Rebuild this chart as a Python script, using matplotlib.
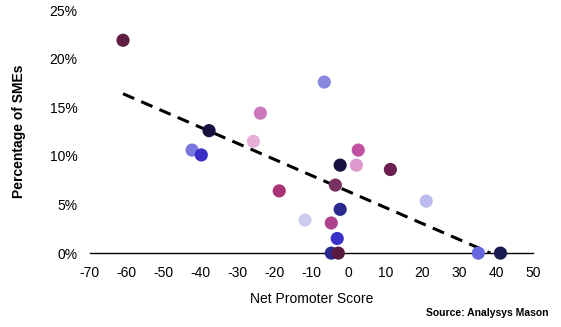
import matplotlib.pyplot as plt
from matplotlib.ticker import PercentFormatter

# Net Promoter Score vs share of SMEs, one point per operator
nps = [-61, -6.5, -23.8, -37.7, -25.7, -42.3, -39.8, 2.7, -2.2, 2.2, 11.4,
       -3.5, -18.7, 21.1, -2.2, -11.7, -4.6, -3.0, -4.6, -2.7, 35.2, 41.2]
share = [21.9, 17.6, 14.4, 12.6, 11.5, 10.6, 10.1, 10.6, 9.05, 9.05, 8.6,
         7.0, 6.4, 5.35, 4.5, 3.4, 3.1, 1.5, 0, 0, 0, 0]
colors = ["#5e1f41", "#8888dd", "#cc77bb", "#1a1040", "#e8b0d8", "#7777dd",
          "#3a30c8", "#c050a0", "#1a1040", "#dd99cc", "#6a2050", "#7a3060",
          "#aa3377", "#bbbbee", "#2a2a90", "#ccccee", "#b04090", "#3a30cc",
          "#2a2a90", "#5a1a40", "#6666dd", "#1a1a50"]

# trend line end points
trend_x = [-61, 38.5]
trend_y = [16.4, 0]

xticks = list(range(-70, 51, 10))
yticks = [0, 5, 10, 15, 20, 25]

plt.rcParams["font.family"] = ["Liberation Sans", "DejaVu Sans"]
plt.rcParams["axes.unicode_minus"] = False

fig = plt.figure(figsize=(5.61, 3.27), dpi=100)
ax = fig.add_axes([0.160, 0.226, 0.790, 0.743])

ax.plot(trend_x, trend_y, color="black", lw=2.2, ls=(0, (4, 2.5)), zorder=2)
ax.scatter(nps, share, s=90, c=colors, edgecolors="none", zorder=3,
           clip_on=False)

ax.set_xlim(-70, 50)
ax.set_ylim(0, 25)
ax.set_xticks(xticks)
ax.set_yticks(yticks)
ax.yaxis.set_major_formatter(PercentFormatter(decimals=0))
ax.tick_params(length=0, labelsize=10, colors="black")
ax.tick_params(axis="y", pad=9)
ax.tick_params(axis="x", pad=9)

for side in ["top", "right", "left"]:
    ax.spines[side].set_visible(False)
ax.spines["bottom"].set_linewidth(1.0)
ax.spines["bottom"].set_zorder(1)

ax.set_xlabel("Net Promoter Score", fontsize=10, labelpad=9)
ax.set_ylabel("Percentage of SMEs", fontsize=10, fontweight="bold",
              labelpad=17)

fig.text(0.978, 0.028, "Source: Analysys Mason", ha="right", va="bottom",
         fontsize=7.5, fontweight="bold",
         family=["Liberation Sans Narrow", "Liberation Sans", "DejaVu Sans"])

fig.savefig("out.png", dpi=100)
